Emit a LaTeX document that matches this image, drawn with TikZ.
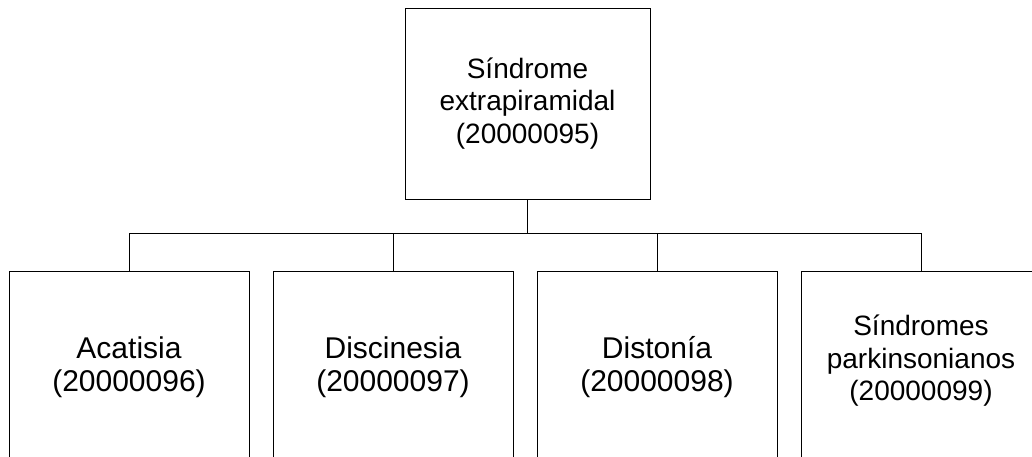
\documentclass[tikz,border=0pt]{standalone}
\usepackage{fontspec}
\setmainfont{Liberation Sans}

\begin{document}
\begin{tikzpicture}[x=1pt,y=-1pt,
      box/.style={draw,line width=0.9pt,inner sep=0pt,align=center,
                  minimum width=240pt,minimum height=200pt},
      bigtext/.style={font=\fontsize{30}{33}\selectfont,align=center,yshift=4pt},
      smalltext/.style={font=\fontsize{28}{32.5}\selectfont,align=center}]
      \useasboundingbox (0,0) rectangle (1032,457);

      % top of the tree
      \node[box,smalltext,minimum width=245pt,minimum height=191pt]
            (root) at (527.5,103.5) {Síndrome\\extrapiramidal\\(20000095)};

      % children, clipped by the page at the bottom
      \node[box,label={[bigtext]center:Acatisia\\(20000096)}] (acat) at (129,371) {};
      \node[box,label={[bigtext]center:Discinesia\\(20000097)}] (disc) at (393,371) {};
      \node[box,label={[bigtext]center:Distonía\\(20000098)}] (dist) at (657,371) {};
      \node[box,label={[smalltext,yshift=10pt]center:Síndromes\\parkinsonianos\\(20000099)}]
            (park) at (921,371) {};

      \coordinate (bus) at (root.south |- 0,233);
      \draw[line width=1.8pt] (root.south) -- (bus);
      \draw[line width=0.9pt]
            (acat.north |- bus) -- (park.north |- bus)
            (acat.north |- bus) -- (acat.north)
            (disc.north |- bus) -- (disc.north)
            (dist.north |- bus) -- (dist.north)
            (park.north |- bus) -- (park.north);
\end{tikzpicture}
\end{document}
